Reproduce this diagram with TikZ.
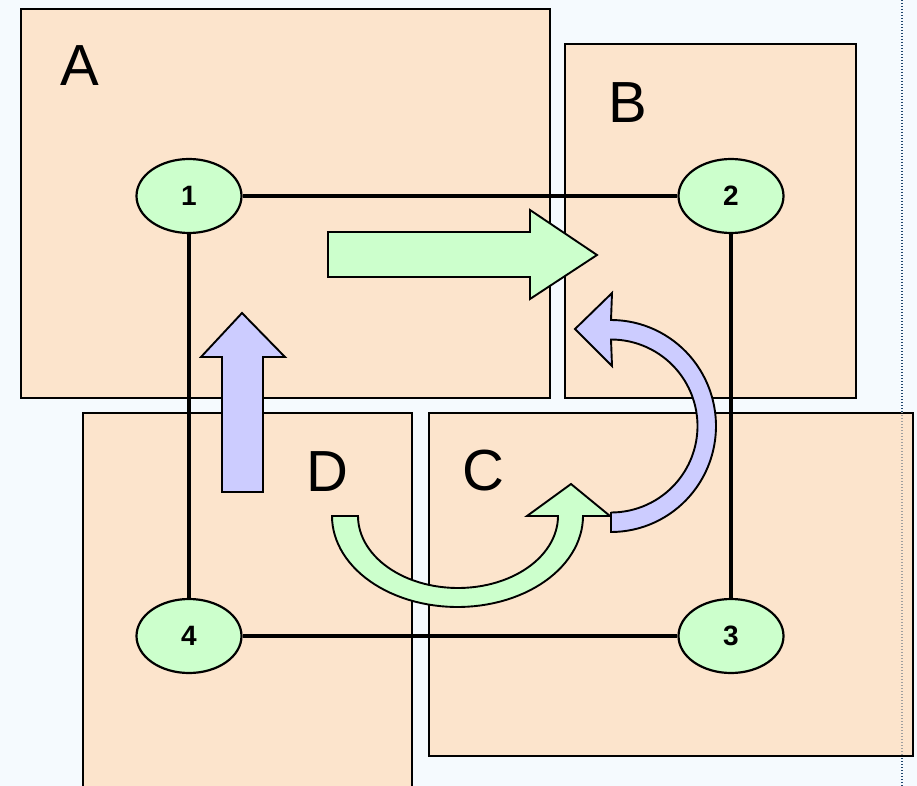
\documentclass[tikz,border=0pt]{standalone}
\usepackage{fontspec}
\setmainfont{Liberation Sans}
\usetikzlibrary{shapes.geometric}
\definecolor{bg}{RGB}{245,250,254}
\definecolor{peach}{RGB}{252,228,204}
\definecolor{mint}{RGB}{204,255,204}
\definecolor{lav}{RGB}{204,204,255}
\definecolor{dotc}{RGB}{30,70,110}
\begin{document}
\begin{tikzpicture}[x=1pt,y=-1pt,
  region/.style={draw=black, line width=2.2pt, fill=peach, inner sep=0pt, anchor=north west},
  regionlabel/.style={inner sep=0pt, font=\fontsize{58}{58}\selectfont},
  stn/.style={ellipse, draw=black, line width=2.2pt, fill=mint, inner sep=0pt,
              minimum width=105pt, minimum height=74pt, font=\bfseries\fontsize{28}{28}\selectfont},
  link/.style={draw=black, line width=3.2pt},
  garrow/.style={draw=black, line width=1.9pt, fill=mint, line join=miter},
  barrow/.style={draw=black, line width=1.9pt, fill=lav, line join=miter},
  dotline/.style={line width=2.5pt, dash pattern=on 1.4pt off 1.6pt}]
\fill[bg] (0,0) rectangle (917,786);
\useasboundingbox (0,0) rectangle (917,786);
\clip (0,0) rectangle (917,786);

% dotted guide
\coordinate (g0) at (902,0);
\coordinate (g1) at (902,412);
\coordinate (g2) at (902,755);
\coordinate (g3) at (902,786);
\draw[dotline, draw=dotc] (g0) -- (g1);
\draw[dotline, draw=dotc] (g2) -- (g3);

% regions
\node[region, minimum width=529pt, minimum height=389pt] (boxA) at (20,8) {};
\node[region, minimum width=291pt, minimum height=354pt] (boxB) at (564,43) {};
\node[region, minimum width=329pt, minimum height=400pt] (boxD) at (82,412) {};
\node[region, minimum width=484pt, minimum height=343pt] (boxC) at (428,412) {};
\draw[dotline, draw=gray!75] (g1) -- (g2);

\node[regionlabel] (lA) at (80,66) {A};
\node[regionlabel] (lB) at (628,103) {B};
\node[regionlabel] (lC) at (483,471) {C};
\node[regionlabel] (lD) at (327,472) {D};

% stations
\node[stn] (n1) at (189,196) {1};
\node[stn] (n2) at (731,196) {2};
\node[stn] (n3) at (731,636) {3};
\node[stn] (n4) at (189,636) {4};

\draw[link] (n1) -- (n2);
\draw[link] (n2) -- (n3);
\draw[link] (n3) -- (n4);
\draw[link] (n4) -- (n1);

% straight arrows
\draw[garrow] (328,232) -- (530,232) -- (530,210) -- (597,255) -- (530,299) -- (530,277) -- (328,277) -- cycle;
\draw[barrow] (222,492) -- (222,357) -- (201,357) -- (242,313) -- (285,357) -- (263,357) -- (263,492) -- cycle;

% curved arrows
\draw[garrow] (332,516) -- plot[domain=0:180, samples=60] ({457.5-125.5*cos(\x)},{516+91*sin(\x)})
  -- (610,516) -- (571,484) -- (527,516) -- (558,516)
  -- plot[domain=180:0, samples=60] ({458-100*cos(\x)},{516+72*sin(\x)}) -- cycle;
\draw[barrow] (611,512) -- plot[domain=0:180, samples=60] ({611+105*sin(\x)},{426+106*cos(\x)})
  -- (612,293) -- (575,329) -- (612,366)
  -- plot[domain=180:0, samples=60] ({611+86.5*sin(\x)},{426+86.5*cos(\x)}) -- cycle;
\end{tikzpicture}
\end{document}
